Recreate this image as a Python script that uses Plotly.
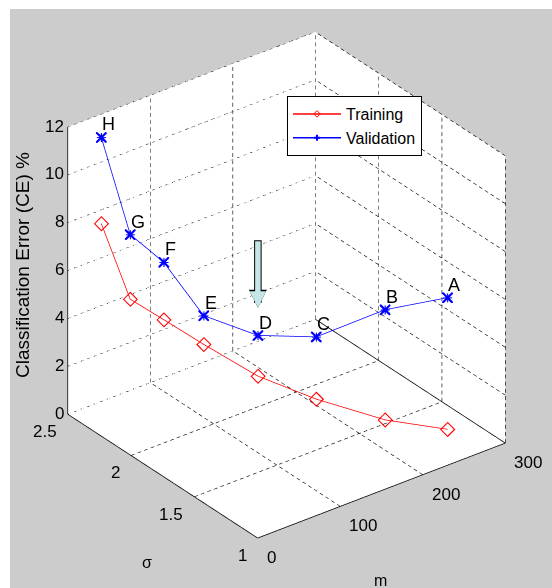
import plotly.graph_objects as go

# Model-selection path: each point is a (m, sigma) pair with its CE %
labels = ["H", "G", "F", "E", "D", "C", "B", "A"]
m_vals = [33, 45, 55, 65, 100, 140, 185, 230]
sigma_vals = [2.45, 2.3, 2.1, 1.85, 1.65, 1.45, 1.2, 1.0]
train_ce = [7.7, 4.9, 4.6, 4.3, 3.2, 2.4, 1.8, 1.5]
valid_ce = [11.3, 7.6, 7.0, 5.5, 4.9, 5.0, 6.4, 7.0]

m_ticks = [0, 100, 200, 300]
s_ticks = [1, 1.5, 2, 2.5]
z_ticks = [0, 2, 4, 6, 8, 10, 12]
m_ticktext = ["0", "100", "200", "300"]
s_ticktext = ["1", "1.5", "2", "2.5"]
z_ticktext = ["0", "2", "4", "6", "8", "10", "12"]

m_lo, m_hi = m_ticks[0], m_ticks[-1]
s_lo, s_hi = s_ticks[0], s_ticks[-1]
z_lo, z_hi = z_ticks[0], z_ticks[-1]

FONT = "Liberation Sans, Arial, sans-serif"
TICKFONT = dict(family=FONT, size=17, color="black")


def segments(pairs):
    xs, ys, zs = [], [], []
    for (a, b) in pairs:
        xs += [a[0], b[0], None]
        ys += [a[1], b[1], None]
        zs += [a[2], b[2], None]
    return xs, ys, zs


def dashed(pairs, n, on=0.55):
    """Split each segment into n short dashes."""
    out = []
    for (a, b), k in zip(pairs, n):
        for i in range(k):
            t0 = i / k
            t1 = (i + on) / k
            p0 = tuple(a[j] + (b[j] - a[j]) * t0 for j in range(3))
            p1 = tuple(a[j] + (b[j] - a[j]) * t1 for j in range(3))
            out.append((p0, p1))
    return out


# dashed grid on the two back walls and the floor
grid, counts = [], []
N_M, N_S, N_Z = 38, 33, 40
for m in m_ticks[1:]:
    grid.append(((m, s_hi, z_lo), (m, s_hi, z_hi))); counts.append(N_Z)
for z in z_ticks:
    grid.append(((m_lo, s_hi, z), (m_hi, s_hi, z))); counts.append(N_M)
for s in s_ticks[:-1]:
    grid.append(((m_hi, s, z_lo), (m_hi, s, z_hi))); counts.append(N_Z)
for z in z_ticks:
    grid.append(((m_hi, s_lo, z), (m_hi, s_hi, z))); counts.append(N_S)
for m in m_ticks:
    grid.append(((m, s_lo, z_lo), (m, s_hi, z_lo))); counts.append(N_S)
for s in s_ticks:
    grid.append(((m_lo, s, z_lo), (m_hi, s, z_lo))); counts.append(N_M)

# solid box edges (axis lines)
edges = [
    ((m_lo, s_lo, z_lo), (m_hi, s_lo, z_lo)),
    ((m_lo, s_lo, z_lo), (m_lo, s_hi, z_lo)),
    ((m_lo, s_hi, z_lo), (m_lo, s_hi, z_hi)),
    ((m_hi, s_hi, z_lo), (m_hi, s_lo, z_lo)),
]

fig = go.Figure()

gx, gy, gz = segments(dashed(grid, counts))
fig.add_trace(go.Scatter3d(x=gx, y=gy, z=gz, mode="lines",
                           line=dict(color="black", width=1.2),
                           showlegend=False, hoverinfo="skip"))
ex, ey, ez = segments(edges)
fig.add_trace(go.Scatter3d(x=ex, y=ey, z=ez, mode="lines",
                           line=dict(color="black", width=1.5),
                           showlegend=False, hoverinfo="skip"))

fig.add_trace(go.Scatter3d(
    x=m_vals, y=sigma_vals, z=train_ce, mode="lines+markers", name="Training",
    line=dict(color="red", width=1.5),
    marker=dict(symbol="diamond-open", size=5, color="red"),
))
fig.add_trace(go.Scatter3d(
    x=m_vals, y=sigma_vals, z=valid_ce, mode="lines+markers", name="Validation",
    line=dict(color="blue", width=1.5),
    marker=dict(symbol="cross", size=5, color="blue"),
))
fig.add_trace(go.Scatter3d(
    x=m_vals, y=sigma_vals, z=valid_ce, mode="markers",
    marker=dict(symbol="x", size=2.5, color="blue"),
    showlegend=False, hoverinfo="skip",
))

scene_annotations = []
# tick labels
for z, t in zip(z_ticks, z_ticktext):
    scene_annotations.append(dict(x=m_lo, y=s_hi, z=z, text=t, showarrow=False,
                                  xanchor="right", yanchor="middle", xshift=-2, yshift=1,
                                  font=TICKFONT))
for m, t in zip(m_ticks, m_ticktext):
    scene_annotations.append(dict(x=m, y=s_lo, z=z_lo, text=t, showarrow=False,
                                  xanchor="left", yanchor="middle", xshift=7, yshift=-19,
                                  font=TICKFONT))
for s, t in zip(s_ticks, s_ticktext):
    scene_annotations.append(dict(x=m_lo, y=s, z=z_lo, text=t, showarrow=False,
                                  xanchor="right", yanchor="middle", xshift=-9, yshift=-17,
                                  font=TICKFONT))
# point letters next to each validation point
for m, s, v, t in zip(m_vals, sigma_vals, valid_ce, labels):
    scene_annotations.append(dict(x=m, y=s, z=v, text=t, showarrow=False,
                                  xanchor="left", yanchor="bottom", xshift=-1, yshift=1,
                                  font=dict(family=FONT, size=18, color="black")))

# arrow pointing at the optimum D (outline + fill)
d_idx = labels.index("D")
arrow_common = dict(x=m_vals[d_idx], y=sigma_vals[d_idx], z=valid_ce[d_idx],
                    text="", showarrow=True, ax=0, standoff=28, arrowhead=2)
scene_annotations += [
    dict(**arrow_common, ay=-97, arrowcolor="black", arrowwidth=7.5, arrowsize=0.48),
    dict(**arrow_common, ay=-96, arrowcolor="#c4e6e6", arrowwidth=5.5, arrowsize=0.6),
]

axis_common = dict(
    showgrid=False, zeroline=False, showline=False, showspikes=False,
    showbackground=True, backgroundcolor="white",
    ticks="", showticklabels=False, title=dict(text=""),
)

fig.update_layout(
    width=552, height=588,
    margin=dict(l=0, r=0, t=0, b=0),
    paper_bgcolor="#cccccc",
    font=dict(family=FONT, size=15, color="black"),
    scene=dict(
        domain=dict(x=[0.038, 1.0], y=[0.03, 1.0]),
        xaxis=dict(range=[m_lo, m_hi], tickvals=m_ticks, **axis_common),
        yaxis=dict(range=[s_lo, s_hi], tickvals=s_ticks, **axis_common),
        zaxis=dict(range=[z_lo, z_hi], tickvals=z_ticks, **axis_common),
        aspectmode="manual", aspectratio=dict(x=1.095, y=1.095, z=1.164),
        camera=dict(projection=dict(type="orthographic"),
                    eye=dict(x=-0.527 * 2, y=-0.687 * 2, z=0.5 * 2),
                    up=dict(x=0, y=0, z=1), center=dict(x=0, y=0, z=0)),
        bgcolor="rgba(0,0,0,0)",
        annotations=scene_annotations,
    ),
    legend=dict(x=287 / 552, y=1 - 96 / 588, xanchor="left", yanchor="top",
                bgcolor="white", bordercolor="black", borderwidth=1,
                itemwidth=48, font=dict(family=FONT, size=16, color="black")),
    annotations=[
        dict(text="Classification Error (CE) %", textangle=-90,
             xref="paper", yref="paper", x=22 / 552, y=1 - 265 / 588,
             xanchor="center", yanchor="middle", showarrow=False,
             font=dict(family=FONT, size=19, color="black")),
        dict(text="m", xref="paper", yref="paper", x=380 / 552, y=1 - 580 / 588,
             xanchor="center", yanchor="middle", showarrow=False,
             font=dict(family=FONT, size=16, color="black")),
        dict(text="σ", xref="paper", yref="paper", x=147 / 552, y=1 - 562 / 588,
             xanchor="center", yanchor="middle", showarrow=False,
             font=dict(family=FONT, size=16, color="black")),
    ],
    shapes=[
        dict(type="rect", xref="paper", yref="paper", x0=0, x1=10 / 552, y0=0, y1=1,
             fillcolor="white", line=dict(width=0), layer="below"),
        dict(type="rect", xref="paper", yref="paper", x0=0, x1=1, y0=1 - 9 / 588, y1=1,
             fillcolor="white", line=dict(width=0), layer="below"),
    ],
)

fig.write_html("out.html")
